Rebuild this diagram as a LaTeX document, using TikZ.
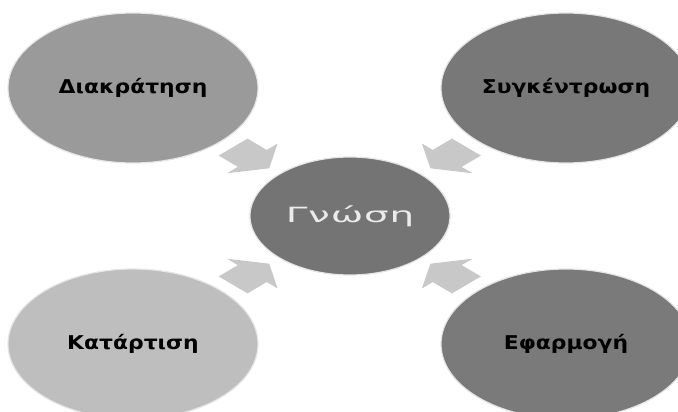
\documentclass[tikz,border=0pt]{standalone}
\usepackage{fontspec}
\usepackage{tikz}
\usetikzlibrary{shapes.geometric}
\usetikzlibrary{calc}

\newfontfamily\labelfont[FakeStretch=1.15]{DejaVu Sans}
\newfontfamily\corefont[FakeStretch=1.85,LetterSpace=4]{DejaVu Sans}

\definecolor{greyA}{HTML}{9A9A9A}
\definecolor{greyB}{HTML}{787878}
\definecolor{greyC}{HTML}{BEBEBE}
\definecolor{greyD}{HTML}{7A7A7A}
\definecolor{greyK}{HTML}{747474}
\definecolor{greyE}{HTML}{C8C8C8}

\tikzset{
	bubble/.style={ellipse, draw=black!10, line width=1.2pt, minimum width=250pt, minimum height=150pt, inner sep=0pt},
	tag/.style={font=\labelfont\bfseries\fontsize{19}{22}\selectfont, text=black},
	pointer/.pic={\fill[greyE] (-16,-12) -- (0,-12) -- (0,-21) -- (14,0) -- (0,21) -- (0,12) -- (-16,12) -- cycle;}
}

\begin{document}
\begin{tikzpicture}[x=1pt,y=-1pt]
		\useasboundingbox (0,0) rectangle (678,412);
		\clip (0,0) rectangle (678,412);
		\fill[white] (0,0) rectangle (678,412);
		\node[bubble, fill=greyA, tag] (dia) at (133,88) {Διακράτηση};
		\node[bubble, fill=greyB, tag] (syg) at (566,88) {Συγκέντρωση};
		\node[bubble, fill=greyC, tag] (kat) at (133,344) {Κατάρτιση};
		\node[bubble, fill=greyD, tag] (efa) at (566,344) {Εφαρμογή};
		\node[bubble, fill=greyK, minimum width=200pt, minimum height=118pt, text=black!8, font=\corefont\fontsize{21}{25}\selectfont] (gnw) at (350,216) {Γνώση};
		% block arrows towards the middle
		\path ($(dia)!0.55!(gnw)$) pic[xscale=1.7, rotate=-45] {pointer};
		\path ($(syg)!0.55!(gnw)$) pic[xscale=1.7, rotate=-135] {pointer};
		\path ($(kat)!0.55!(gnw)$) pic[xscale=1.7, rotate=45] {pointer};
		\path ($(efa)!0.55!(gnw)$) pic[xscale=1.7, rotate=135] {pointer};
	\end{tikzpicture}
\end{document}
